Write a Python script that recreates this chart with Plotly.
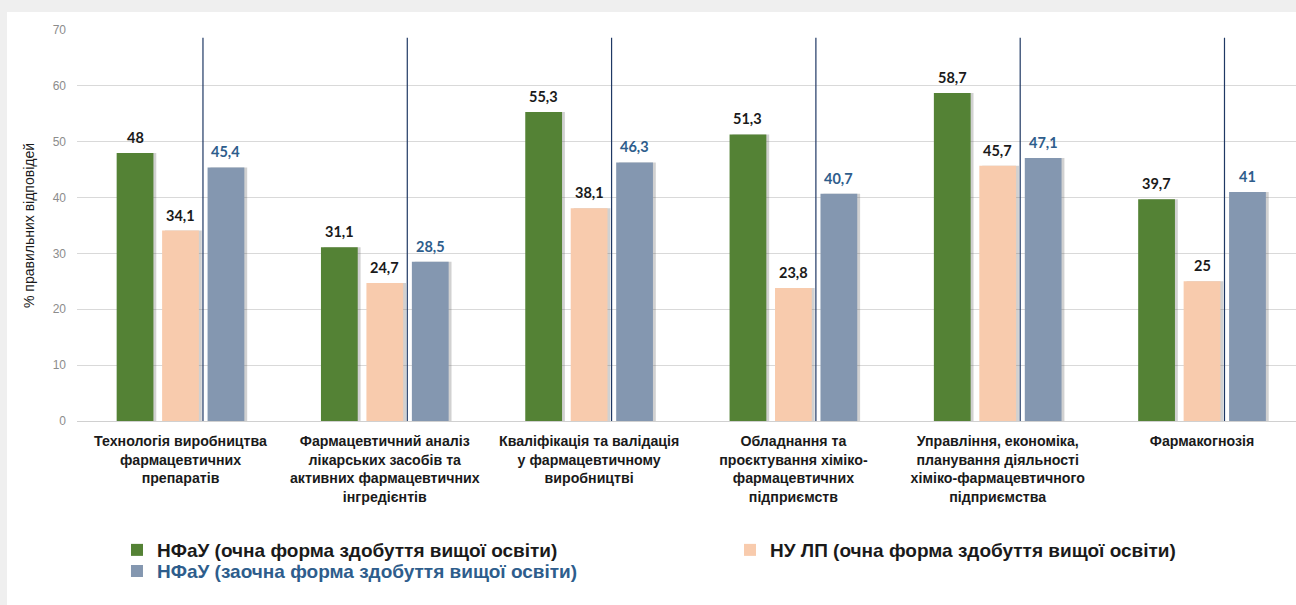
import plotly.graph_objects as go

categories = [
    "Технологія виробництва<br>фармацевтичних<br>препаратів",
    "Фармацевтичний аналіз<br>лікарських засобів та<br>активних фармацевтичних<br>інгредієнтів",
    "Кваліфікація та валідація<br>у фармацевтичному<br>виробництві",
    "Обладнання та<br>проєктування хіміко-<br>фармацевтичних<br>підприємств",
    "Управління, економіка,<br>планування діяльності<br>хіміко-фармацевтичного<br>підприємства",
    "Фармакогнозія",
]
series_names = [
    "НФаУ (очна форма здобуття вищої освіти)",
    "НУ ЛП (очна форма здобуття вищої освіти)",
    "НФаУ (заочна форма здобуття вищої освіти)",
]
nfau_full = [48, 31.1, 55.3, 51.3, 58.7, 39.7]
nulp_full = [34.1, 24.7, 38.1, 23.8, 45.7, 25]
nfau_part = [45.4, 28.5, 46.3, 40.7, 47.1, 41]
divider_top = 68.6
y_ticks = [0, 10, 20, 30, 40, 50, 60, 70]

series_values = [nfau_full, nulp_full, nfau_part]
bar_colors = ["#548235", "#F8CBAD", "#8497B0"]
label_colors = ["#1a1a1a", "#1a1a1a", "#2e5d8c"]
legend_ids = ["legend", "legend2", "legend3"]

slot = 0.2225
bar_w = 0.18
centers = [-slot, 0.0, slot]
xs = list(range(len(categories)))

fig = go.Figure()

# soft shadows behind bars
for k, vals in enumerate(series_values):
    fig.add_trace(go.Bar(
        x=xs, y=vals, width=bar_w, offset=centers[k] - bar_w / 2 + 0.014,
        marker=dict(color="rgba(90,90,90,0.28)", line=dict(width=0)),
        showlegend=False, hoverinfo="skip",
    ))

for k, vals in enumerate(series_values):
    fig.add_trace(go.Bar(
        x=xs, y=vals, name="<b>%s</b>" % series_names[k], width=bar_w,
        offset=centers[k] - bar_w / 2,
        marker=dict(color=bar_colors[k], line=dict(width=0)),
        legend=legend_ids[k],
    ))


def fmt(v):
    return ("%g" % v).replace(".", ",")


for k, vals in enumerate(series_values):
    for i, v in enumerate(vals):
        fig.add_annotation(
            x=i + centers[k], y=v, text="<b>%s</b>" % fmt(v),
            showarrow=False, yanchor="bottom", yshift=5,
            font=dict(family="Lato, Calibri, sans-serif", size=14.5, color=label_colors[k]),
        )

for i in xs:
    fig.add_shape(type="line", x0=i + 0.11, x1=i + 0.11, y0=0, y1=divider_top,
                  xref="x", yref="y", line=dict(color="#1f3864", width=1.2), layer="above")

# white card on gray page
fig.add_shape(type="rect", xref="paper", yref="paper",
              x0=-0.0574, x1=1.02, y0=-0.48, y1=1.046,
              fillcolor="white", line=dict(width=0), layer="below")

fig.update_layout(
    width=1296, height=605,
    paper_bgcolor="#efefef", plot_bgcolor="rgba(0,0,0,0)",
    margin=dict(l=77, r=0, t=30, b=184),
    barmode="overlay",
    xaxis=dict(
        range=[-0.5066, 5.460], tickmode="array", tickvals=xs,
        ticktext=["<b>%s</b>" % c for c in categories],
        tickfont=dict(family="Liberation Sans, Arial, sans-serif", size=14.2, color="#1a1a1a"),
        showgrid=False, zeroline=False, showline=False, ticks="",
        ticklabelstandoff=10,
    ),
    yaxis=dict(
        range=[0, 70], tickmode="array", tickvals=y_ticks,
        tickfont=dict(family="Liberation Sans, Arial, sans-serif", size=12, color="#8c8c8c"),
        showgrid=True, gridcolor="#d9d9d9", gridwidth=1,
        zeroline=True, zerolinecolor="#d0d0d0", zerolinewidth=1,
        ticklabelstandoff=10,
        title=dict(text="% правильних відповідей", standoff=14,
                   font=dict(family="Liberation Sans, Arial, sans-serif", size=14, color="#1a1a1a")),
    ),
    font=dict(family="Liberation Sans, Arial, sans-serif"),
)

legend_font = dict(family="Liberation Sans, Arial, sans-serif", size=19)
fig.update_layout(
    legend=dict(x=0.0328, y=-0.33, xanchor="left", yanchor="middle", bgcolor="rgba(0,0,0,0)",
                font=dict(**legend_font, color="#1a1a1a"), itemwidth=30),
    legend2=dict(x=0.5357, y=-0.33, xanchor="left", yanchor="middle", bgcolor="rgba(0,0,0,0)",
                 font=dict(**legend_font, color="#1a1a1a"), itemwidth=30),
    legend3=dict(x=0.0328, y=-0.384, xanchor="left", yanchor="middle", bgcolor="rgba(0,0,0,0)",
                 font=dict(**legend_font, color="#2e5d8c"), itemwidth=30),
)

fig.write_html("out.html", config={"displayModeBar": False},
               post_script="document.body.style.margin='0';")
